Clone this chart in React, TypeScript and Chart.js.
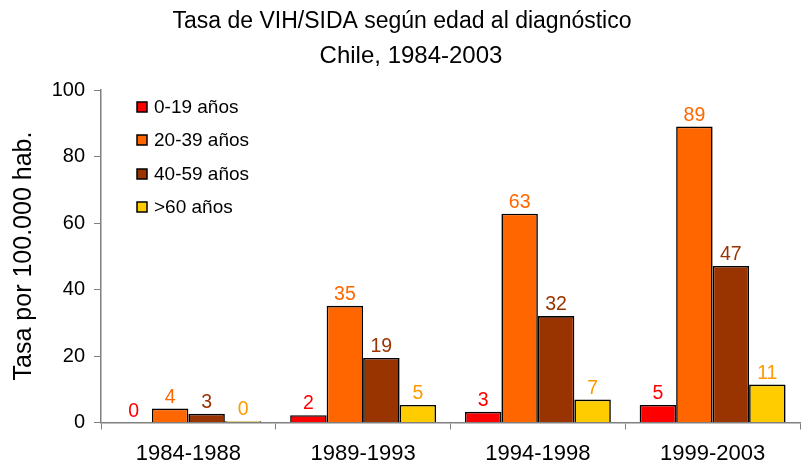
import React, { useEffect, useRef } from "react";
import { Chart, registerables } from "chart.js";

Chart.register(...registerables);

const categories = ["1984-1988", "1989-1993", "1994-1998", "1999-2003"];
const seriesNames = ["0-19 años", "20-39 años", "40-59 años", ">60 años"];
const age0to19 = [0, 2.2, 3.2, 5.3];
const age20to39 = [4.2, 35.1, 62.8, 89.0];
const age40to59 = [2.6, 19.4, 32.0, 47.1];
const age60plus = [0.4, 5.3, 6.9, 11.4];
const barColors = ["#FF0000", "#FF6600", "#993300", "#FFCC00"];
const labelColors = ["#FF0000", "#FF6600", "#993300", "#FF9900"];
const titleLines = ["Tasa de VIH/SIDA según edad al diagnóstico", "Chile, 1984-2003"];
const yAxisTitle = "Tasa por 100.000 hab.";

const FONT = "'Liberation Sans', Arial, sans-serif";

const overlayPlugin = {
  id: "overlay",
  afterDatasetsDraw(chart: any) {
    const ctx = chart.ctx as CanvasRenderingContext2D;
    ctx.save();
    ctx.font = `19.5px ${FONT}`;
    ctx.textAlign = "center";
    ctx.textBaseline = "alphabetic";
    chart.data.datasets.forEach((ds: any, di: number) => {
      const meta = chart.getDatasetMeta(di);
      meta.data.forEach((bar: any, i: number) => {
        const v = ds.data[i] as number;
        ctx.fillStyle = labelColors[di];
        ctx.fillText(String(Math.round(v)), bar.x, bar.y - 6);
      });
    });
    ctx.restore();
  },
  afterDraw(chart: any) {
    const ctx = chart.ctx as CanvasRenderingContext2D;
    ctx.save();
    ctx.fillStyle = "#000";
    ctx.textAlign = "center";
    ctx.textBaseline = "alphabetic";
    ctx.font = `23px ${FONT}`;
    ctx.fillText(titleLines[0], 402, 28);
    ctx.font = `24px ${FONT}`;
    ctx.fillText(titleLines[1], 411, 63);
    ctx.save();
    ctx.translate(31, 256);
    ctx.rotate(-Math.PI / 2);
    ctx.font = `25px ${FONT}`;
    ctx.fillText(yAxisTitle, 0, 0);
    ctx.restore();
    ctx.font = `19px ${FONT}`;
    ctx.textAlign = "left";
    ctx.textBaseline = "middle";
    seriesNames.forEach((name, i) => {
      const cy = Math.round(107 + i * 33.3);
      ctx.fillStyle = barColors[i];
      ctx.fillRect(137, cy - 5, 10, 10);
      ctx.strokeStyle = "#000";
      ctx.lineWidth = 1.5;
      ctx.strokeRect(137, cy - 5, 10, 10);
      ctx.fillStyle = "#000";
      ctx.fillText(name, 154, cy + 1);
    });
    ctx.restore();
  },
};

export default function App() {
  const ref = useRef<HTMLCanvasElement | null>(null);
  useEffect(() => {
    if (!ref.current) return;
    const series = [age0to19, age20to39, age40to59, age60plus];
    const chart = new Chart(ref.current, {
      type: "bar",
      data: {
        labels: categories,
        datasets: series.map((d, i) => ({
          label: seriesNames[i],
          data: d,
          backgroundColor: barColors[i],
          borderColor: "#000000",
          borderWidth: 1.6,
          borderSkipped: "start",
          categoryPercentage: 0.835,
          barPercentage: 1,
        })),
      },
      options: {
        responsive: false,
        animation: false,
        layout: { padding: { top: 90, right: 6, left: 0, bottom: 0 } },
        plugins: {
          legend: { display: false },
          title: { display: false },
          tooltip: { enabled: false },
        },
        scales: {
          x: {
            offset: true,
            grid: {
              offset: true,
              drawOnChartArea: false,
              drawTicks: true,
              tickLength: 7,
              color: "#808080",
            },
            border: { display: true, color: "#808080", width: 1.5 },
            ticks: {
              color: "#000",
              font: { family: FONT, size: 22 },
              padding: 11,
              maxRotation: 0,
            },
            afterFit(scale: any) {
              scale.height = 43.5;
            },
          },
          y: {
            min: 0,
            max: 100,
            ticks: {
              stepSize: 20,
              color: "#000",
              font: { family: FONT, size: 20 },
              padding: 9,
            },
            grid: {
              drawOnChartArea: false,
              drawTicks: true,
              tickLength: 7,
              color: "#808080",
            },
            border: { display: true, color: "#808080", width: 1.5 },
            afterFit(scale: any) {
              scale.width = 101;
            },
          },
        },
      },
      plugins: [overlayPlugin],
    });
    return () => chart.destroy();
  }, []);
  return (
    <div style={{ position: "fixed", left: 0, top: 0, width: 806, height: 466, background: "#fff" }}>
      <canvas ref={ref} width={806} height={466} style={{ display: "block" }} />
    </div>
  );
}
